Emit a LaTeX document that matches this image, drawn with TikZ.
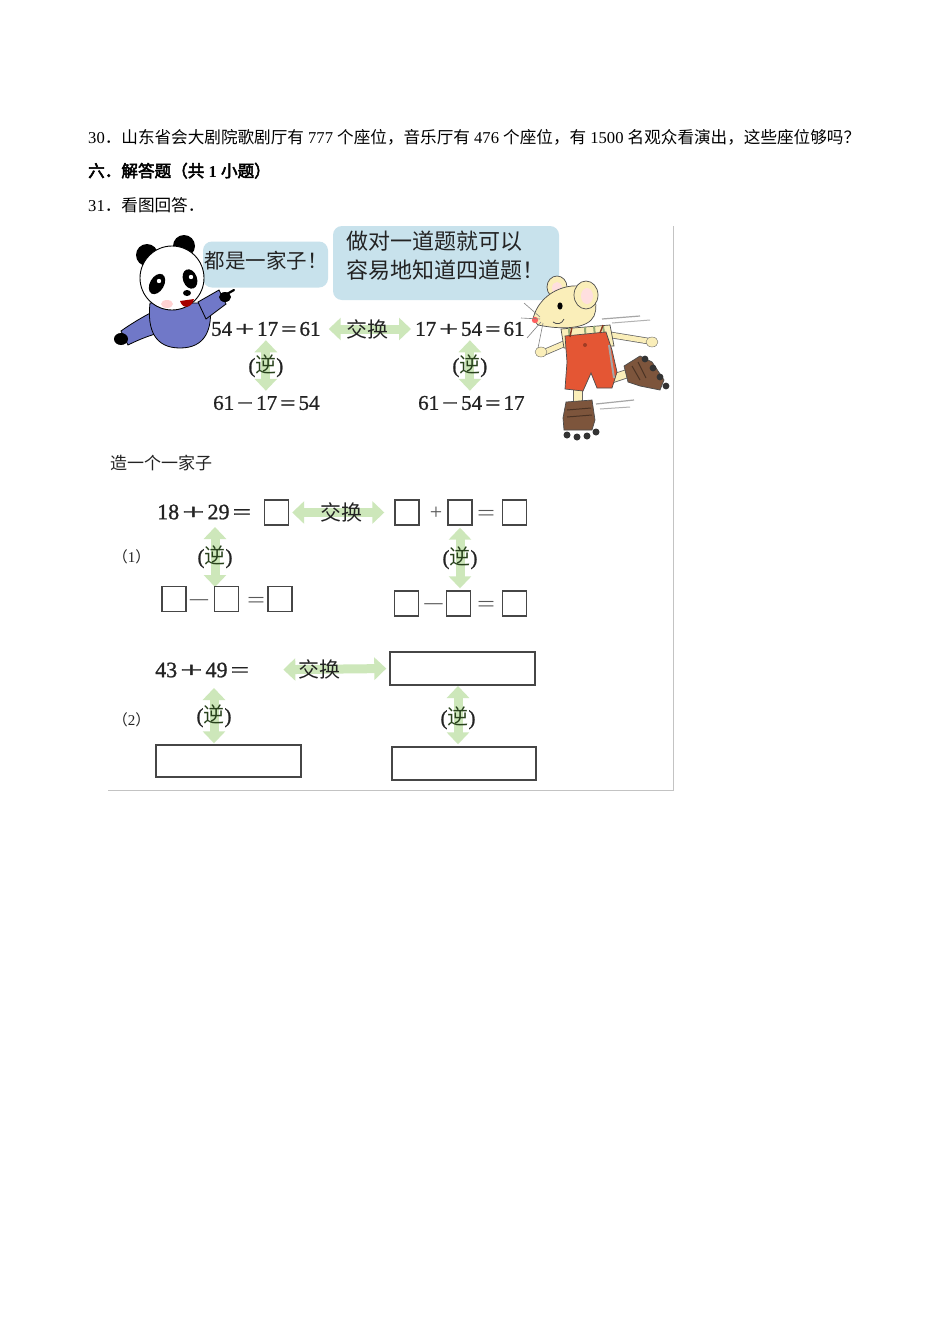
\documentclass[tikz,border=0pt]{standalone}
\usepackage{fontspec}
\usepackage{graphicx}
\setmainfont{Liberation Serif}
\newfontfamily\cjk{Noto Sans CJK SC}
\newfontfamily\cjkb[FakeBold=3]{Noto Sans CJK SC}
\newfontfamily\figserif[FakeBold=1]{Liberation Serif}
\usetikzlibrary{arrows.meta,shapes.geometric}
\pgfdeclarelayer{bg}
\pgfsetlayers{bg,main}
\definecolor{bubblec}{RGB}{200,226,236}
\definecolor{garrowc}{RGB}{205,231,186}
\definecolor{boxc}{RGB}{70,70,70}
\definecolor{nic}{RGB}{40,66,28}
\definecolor{figtext}{RGB}{35,35,35}
\definecolor{pandablue}{RGB}{112,120,200}
\definecolor{mcream}{RGB}{250,238,185}
\definecolor{mred}{RGB}{228,86,52}
\definecolor{mbrown}{RGB}{125,85,60}
\definecolor{framec}{RGB}{195,195,195}
\definecolor{mstripe}{RGB}{150,170,120}
\newcommand\zh[1]{{\cjk #1}}
\newcommand\zhb[1]{{\cjkb #1}}
\newcommand\gp{\hspace{3pt}}
\newcommand\bpl{\scalebox{1.6}[1]{+}}
\newcommand\beq{\scalebox{1.3}[1]{=}}
\newcommand\bmi{\scalebox{1.35}[1]{−}}
\newcommand\Bpl{\scalebox{1.8}[1]{+}}
\newcommand\Beq{\scalebox{1.5}[1]{=}}
\newcommand\niyi{(\textcolor{nic}{\zh{逆}})}
\tikzset{
  maintxt/.style={font=\fontsize{16.6pt}{20pt}\selectfont, inner sep=0pt, anchor=base west},
  bubble/.style={fill=bubblec, rounded corners=9pt, inner sep=0pt},
  bubtxt/.style={font=\fontsize{20.5pt}{24pt}\selectfont\cjk, text=figtext, inner sep=0pt},
  eqA/.style={font=\fontsize{21pt}{21pt}\selectfont\figserif, text=figtext, inner sep=0pt, anchor=west},
  eqB/.style={font=\fontsize{22pt}{22pt}\selectfont\figserif, text=figtext, inner sep=0pt, anchor=west},
  opB/.style={font=\fontsize{22pt}{22pt}\selectfont, text=black!65, inner sep=0pt, anchor=base},
  swp/.style={font=\fontsize{21pt}{21pt}\selectfont\cjk, text=figtext, inner sep=0pt},
  inv/.style={font=\fontsize{21pt}{21pt}\selectfont\figserif, text=figtext, inner sep=0pt},
  garrow/.style={draw=garrowc, line width=9pt, {Triangle[width=22pt,length=12pt]}-{Triangle[width=22pt,length=12pt]}},
  ansbox/.style={draw=boxc, line width=1.4pt, minimum width=24pt, minimum height=25pt, inner sep=0pt},
  longbox/.style={draw=boxc, line width=1.4pt, minimum width=145pt, minimum height=33pt, inner sep=0pt},
  sublbl/.style={font=\fontsize{15pt}{15pt}\selectfont, text=figtext, inner sep=0pt},
  outl/.style={draw=black!70, line width=0.7pt},
}
\begin{document}
\begin{tikzpicture}[x=1pt,y=-1pt]
\begin{pgfonlayer}{bg}
\fill[white] (0,0) rectangle (950,1344);
\end{pgfonlayer}
\useasboundingbox (0,0) rectangle (950,1344);

% ---------- question text ----------
\node[maintxt] (q30) at (88,143) {30\zh{．山东省会大剧院歌剧厅有} 777 \zh{个座位，音乐厅有} 476 \zh{个座位，有} 1500 \zh{名观众看演出，这些座位够吗？}};
\node[maintxt] (sec6) at (88,177) {\zhb{六．解答题（共} \textbf{1} \zhb{小题）}};
\node[maintxt] (q31) at (88,211) {31\zh{．看图回答．}};

% ---------- frame ----------
\draw[framec, line width=1pt] (673,226) -- (673,790) -- (108,790);

% ---------- speech bubbles ----------
\node[bubble, minimum width=125pt, minimum height=46pt] (b1) at (265.5,264.5) {};
\node[bubtxt] (b1t) at (266,261) {都是一家子！};
\node[bubble, minimum width=226pt, minimum height=74pt] (b2) at (446,263) {};
\node[bubtxt, font=\fontsize{22pt}{29pt}\selectfont\cjk, align=left, anchor=north west] (b2t) at (346,231) {做对一道题就可以\\容易地知道四道题！};

% ---------- panda ----------
\filldraw[fill=pandablue, draw=black, line width=0.8pt] (160,308) .. controls (140,318) and (128,326) .. (121,331) -- (128,345) .. controls (140,339) and (155,333) .. (168,331) -- cycle;
\fill[black] (121,339) ellipse (7 and 6);
\filldraw[fill=pandablue, draw=black, line width=0.8pt] (150,303) .. controls (147,330) and (155,348) .. (180,348) .. controls (205,348) and (213,330) .. (210,303) -- cycle;
\filldraw[fill=pandablue, draw=black, line width=0.8pt] (198,302) -- (219,290) -- (226,304) -- (206,319) -- cycle;
\fill[black] (225,297) ellipse (6 and 5);
\draw[black, line width=2.2pt, line cap=round] (227,294) -- (234,290);
\fill[black] (147,255) circle (11);
\fill[black] (184,246) circle (11);
\filldraw[fill=white, draw=black, line width=0.9pt] (172,278) circle (32);
\fill[black, rotate around={-30:(157,284)}] (157,284) ellipse (7 and 11);
\fill[black, rotate around={20:(190,279)}] (190,279) ellipse (7 and 10);
\fill[white] (159,281) circle (2.2);
\fill[white] (191,277) circle (2.2);
\fill[black] (187,293) ellipse (4 and 3);
\fill[red!65!black] (180,301) .. controls (183,310) and (192,308) .. (194,299) -- cycle;
\fill[pink!70] (167,304) ellipse (6 and 4);

% ---------- mouse ----------
\draw[gray!70, line width=1.2pt] (602,319) -- (640,316);
\draw[gray!60, line width=1pt] (612,323) -- (650,320);
\draw[gray!70, line width=1.2pt] (596,404) -- (634,400);
\draw[gray!60, line width=1pt] (600,409) -- (630,407);
\draw[black!60, line width=9pt, line cap=round] (608,380) -- (632,372);
\draw[mcream, line width=7.4pt, line cap=round] (608,380) -- (632,372);
\filldraw[fill=mbrown, outl] (624,366) -- (640,356) -- (652,362) -- (664,380) -- (660,390) -- (640,386) -- (628,382) -- cycle;
\draw[mbrown!60!black, line width=1pt] (632,366) -- (640,380) (638,362) -- (646,378);
\fill[black!80] (645,359) circle (3.4);
\fill[black!80] (653,368) circle (3.4);
\fill[black!80] (660,377) circle (3.4);
\fill[black!80] (666,386) circle (3.4);
\draw[black!60, line width=9.5pt] (578,386) -- (578,405);
\draw[mcream, line width=8pt] (578,386) -- (578,405);
\filldraw[fill=mbrown, outl] (566,402) -- (592,400) -- (595,420) -- (592,430) -- (564,430) -- (563,418) -- cycle;
\draw[mbrown!60!black, line width=1pt] (567,410) -- (591,408) (567,417) -- (592,415);
\fill[black!80] (567,435) circle (3.5);
\fill[black!80] (577,437) circle (3.5);
\fill[black!80] (587,436) circle (3.5);
\fill[black!80] (596,432) circle (3.5);
\draw[black!60, line width=6.5pt, line cap=round] (605,334) -- (648,341);
\draw[mcream, line width=5pt, line cap=round] (605,334) -- (648,341);
\filldraw[fill=mcream, draw=black!60] (652,342) ellipse (6 and 5);
\draw[black!60, line width=6.5pt, line cap=round] (566,343) -- (545,352);
\draw[mcream, line width=5pt, line cap=round] (566,343) -- (545,352);
\filldraw[fill=mcream, draw=black!60] (541,352) ellipse (6 and 5);
\filldraw[fill=mcream, outl] (561,329) -- (610,325) -- (614,346) -- (564,348) -- cycle;
\draw[mstripe, line width=2pt] (585,327) -- (586,347) (594,326) -- (596,347) (603,326) -- (606,346) (569,328) -- (570,347);
\filldraw[fill=mred, outl] (565,336) -- (606,332) -- (612,350) -- (617,372) -- (612,388) -- (597,388) -- (591,373) -- (583,391) -- (565,389) -- (567,362) -- cycle;
\draw[gray!70, line width=2pt] (609,345) -- (614,378);
\draw[mred!60!black, line width=1.4pt] (570,337) -- (572,327) (600,333) -- (603,325);
\fill[mred!70!black] (585,345) circle (2);
\filldraw[fill=mcream, outl] (557,287) ellipse (10 and 11);
\fill[pink!50] (557,288) ellipse (5 and 6);
\filldraw[fill=mcream, outl] (533,319) .. controls (537,301) and (553,288) .. (572,286) .. controls (592,284) and (600,302) .. (594,316) .. controls (588,329) and (562,330) .. (538,325) -- cycle;
\filldraw[fill=mcream, outl] (586,295) ellipse (12 and 14);
\fill[pink!50] (587,296) ellipse (6 and 8);
\fill[black] (560,306) ellipse (2.6 and 3.6);
\draw[black!70, line width=0.8pt] (553,322) .. controls (557,325) and (562,324) .. (564,319);
\fill[red!50!pink] (535,320) circle (3.2);
\draw[gray, line width=0.6pt] (540,317) -- (524,303);
\draw[gray, line width=0.6pt] (540,319) -- (521,318);
\draw[gray, line width=0.6pt] (541,322) -- (527,338);
\draw[gray, line width=0.6pt] (543,323) -- (538,348);

% ---------- example family ----------
\node[eqA] (r1a) at (211,329) {54\gp\bpl\gp17\gp\beq\gp61};
\node[eqA] (r1b) at (415,329) {17\gp\bpl\gp54\gp\beq\gp61};
\node[eqA] (r2a) at (213,403) {61\gp\bmi\gp17\gp\beq\gp54};
\node[eqA] (r2b) at (418,403) {61\gp\bmi\gp54\gp\beq\gp17};
\begin{pgfonlayer}{bg}
\draw[garrow, shorten <=8pt, shorten >=4pt] (r1a.east) -- node[swp] (s1) {交换} (r1b.west);
\draw[garrow, shorten <=4pt, shorten >=5pt] (r1a.south) -- node[inv] (i1) {\niyi} (r2a.north -| r1a.south);
\draw[garrow, shorten <=4pt, shorten >=5pt] (r1b.south) -- node[inv] (i2) {\niyi} (r2b.north -| r1b.south);
\end{pgfonlayer}

\node[font=\fontsize{17pt}{17pt}\selectfont\cjk, text=figtext, inner sep=0pt, anchor=west] (make) at (110,463) {造一个一家子};

% ---------- part (1) ----------
\node[sublbl] (p1) at (131.5,557) {\zh{（}1\zh{）}};
\node[eqB] (t1) at (157,512) {18\gp\Bpl\gp29\gp\Beq};
\node[ansbox] (bxa) at (276.5,512.5) {};
\node[ansbox] (bxb) at (407,512.5) {};
\node[opB] (o1) at (436,519) {+};
\node[ansbox] (bxc) at (460,512.5) {};
\node[opB] (o2) at (486,520) {\scalebox{1.45}[1]{=}};
\node[ansbox] (bxd) at (514.5,512.5) {};
\node[ansbox] (bxe) at (174,599) {};
\node[opB] (o3) at (199,607) {\scalebox{1.8}[1]{−}};
\node[ansbox] (bxf) at (226.5,599) {};
\node[opB] (o4) at (256,607) {\scalebox{1.45}[1]{=}};
\node[ansbox] (bxg) at (280,599) {};
\node[ansbox] (bxh) at (406.5,603.5) {};
\node[opB] (o5) at (433.5,611) {\scalebox{1.8}[1]{−}};
\node[ansbox] (bxi) at (458.5,603.5) {};
\node[opB] (o6) at (486,611) {\scalebox{1.45}[1]{=}};
\node[ansbox] (bxj) at (514.5,603.5) {};
\coordinate (v1a) at (215,527);
\coordinate (v1b) at (215,587);
\begin{pgfonlayer}{bg}
\draw[garrow, shorten <=3pt, shorten >=10pt] (bxa.east) -- node[swp] (s2) {交换} (bxb.west);
\draw[garrow] (v1a) -- node[inv] (i3) {\niyi} (v1b);
\draw[garrow, shorten <=2pt, shorten >=2pt] (bxc.south) -- node[inv] (i4) {\niyi} (bxi.north -| bxc.south);
\end{pgfonlayer}

% ---------- part (2) ----------
\node[sublbl] (p2) at (131.5,720) {\zh{（}2\zh{）}};
\node[eqB] (t2) at (155,670) {43\gp\Bpl\gp49\gp\Beq};
\node[longbox] (lb1) at (462.5,668.5) {};
\node[longbox, minimum height=32pt] (lb2) at (228.5,761) {};
\node[longbox, minimum width=144pt] (lb3) at (464,763.5) {};
\coordinate (v3a) at (214,688);
\coordinate (v4a) at (458,686);
\begin{pgfonlayer}{bg}
\draw[garrow, shorten <=34pt, shorten >=3pt] (t2.east) -- node[swp] (s3) {交换} (lb1.west);
\draw[garrow, shorten >=1pt] (v3a) -- node[inv] (i5) {\niyi} (v3a |- lb2.north);
\draw[garrow, shorten >=2pt] (v4a) -- node[inv, yshift=-2pt] (i6) {\niyi} (v4a |- lb3.north);
\end{pgfonlayer}
\end{tikzpicture}
\end{document}
